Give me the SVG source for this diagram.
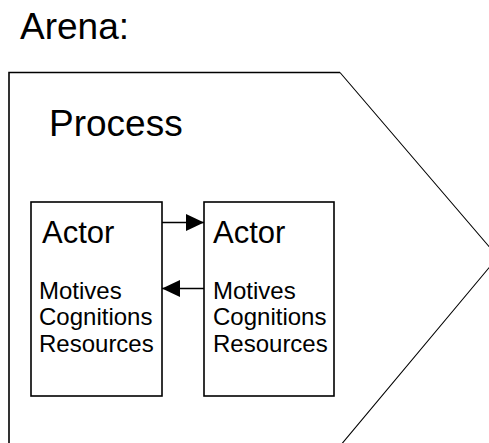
<svg xmlns="http://www.w3.org/2000/svg" width="489" height="443" viewBox="0 0 489 443">
  <style>
    .title { font-family: "Liberation Sans", Arial, sans-serif; font-size: 37px; fill: #000; }
    .actor { font-family: "Liberation Sans", Arial, sans-serif; font-size: 31px; fill: #000; }
    .attr { font-family: "Liberation Sans", Arial, sans-serif; font-size: 24px; fill: #000; }
    .box { fill: #fff; stroke: #000; stroke-width: 1.6; }
    .edge { fill: none; stroke: #000; stroke-width: 1.6; }
    .diag { fill: none; stroke: #000; stroke-width: 1.1; }
    .link { fill: none; stroke: #000; stroke-width: 1.6; }
  </style>
  <defs>
    <marker id="arrow" viewBox="0 0 18 17" refX="18" refY="8.5" markerWidth="18" markerHeight="17" markerUnits="userSpaceOnUse" orient="auto">
      <path d="M0,0 L18,8.5 L0,17 Z" fill="#000"/>
    </marker>
  </defs>
  <rect width="489" height="443" fill="#fff"/>

  <text class="title" x="20" y="38.5">Arena:</text>

  <!-- arena / process shape: pentagon running off the right and bottom -->
  <g id="process">
    <path class="edge" d="M9,446 L9,72.5 L340,72.5"/>
    <path class="diag" d="M340,72.5 L498,257 L340,446"/>
    <text class="title" x="49" y="135.5">Process</text>
  </g>

  <g id="actor-left">
    <rect class="box" x="31" y="202" width="131" height="194"/>
    <text class="actor" x="42" y="242.5">Actor</text>
    <text class="attr" x="39" y="298.5">Motives</text>
    <text class="attr" x="39" y="325">Cognitions</text>
    <text class="attr" x="39" y="352">Resources</text>
  </g>

  <g id="actor-right">
    <rect class="box" x="204" y="202" width="130" height="194"/>
    <text class="actor" x="213" y="242.5">Actor</text>
    <text class="attr" x="213" y="298.5">Motives</text>
    <text class="attr" x="213" y="325">Cognitions</text>
    <text class="attr" x="213" y="352">Resources</text>
  </g>

  <g id="connectors">
    <path class="link" d="M162,222.5 L204,222.5" marker-end="url(#arrow)"/>
    <path class="link" d="M204,288.5 L162,288.5" marker-end="url(#arrow)"/>
  </g>
</svg>
